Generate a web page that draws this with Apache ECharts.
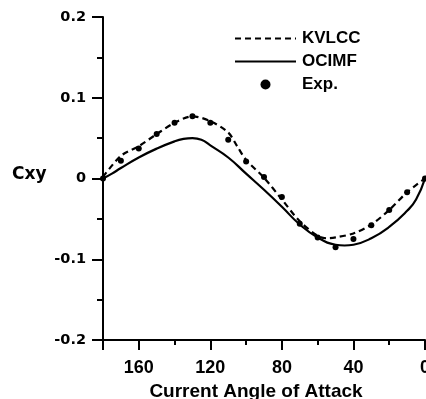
<!DOCTYPE html>
<html>
<head>
<meta charset="utf-8">
<script src="https://cdn.jsdelivr.net/npm/echarts@6/dist/echarts.min.js"></script>
<style>
html,body{margin:0;padding:0;background:#fff;}
#main{width:426px;height:399px;}
</style>
</head>
<body>
<div id="main"></div>
<script>
// angles (deg) and Cxy values
var kvlccAngle = [180, 170, 160, 150, 140, 130, 120, 110, 105, 100, 90, 80, 70, 60, 55, 50, 40, 30, 20, 10, 0];
var kvlccCxy   = [0.002, 0.028, 0.040, 0.055, 0.069, 0.077, 0.071, 0.057, 0.040, 0.023, 0.001, -0.026, -0.053, -0.071, -0.074, -0.073, -0.068, -0.057, -0.039, -0.017, 0.0];

var ocimfAngle = [180, 175, 170, 160, 150, 140, 135, 130, 125, 120, 110, 100, 90, 80, 70, 60, 50, 45, 40, 30, 20, 10, 5, 0];
var ocimfCxy   = [0.0, 0.006, 0.013, 0.026, 0.037, 0.046, 0.049, 0.050, 0.048, 0.041, 0.026, 0.006, -0.014, -0.035, -0.057, -0.073, -0.082, -0.083, -0.082, -0.074, -0.060, -0.040, -0.026, 0.0];

var expAngle = [180, 170, 160, 150, 140, 130, 120, 110, 100, 90, 80, 70, 60, 50, 40, 30, 20, 10, 0];
var expCxy   = [0.0, 0.022, 0.037, 0.055, 0.069, 0.077, 0.069, 0.048, 0.021, 0.002, -0.023, -0.056, -0.073, -0.085, -0.075, -0.058, -0.039, -0.017, 0.0];

function pairs(xs, ys) {
  var out = [];
  for (var i = 0; i < xs.length; i++) out.push([xs[i], ys[i]]);
  return out;
}

var chart = echarts.init(document.getElementById('main'));
var option = {
  animation: false,
  backgroundColor: '#fff',
  grid: { left: 103, right: 1, top: 17, bottom: 59, outerBoundsMode: 'none', containLabel: false },
  legend: {
    orient: 'vertical',
    left: 234, top: 30,
    itemWidth: 61, itemHeight: 10, itemGap: 6,
    padding: 0,
    textStyle: { fontFamily: 'Liberation Sans', fontWeight: 'bold', fontSize: 17, color: '#000', padding: [0, 0, 0, 1] },
    data: [
      { name: 'KVLCC', itemStyle: { opacity: 0 } },
      { name: 'OCIMF', itemStyle: { opacity: 0 } },
      { name: 'Exp.', icon: 'circle', itemStyle: { color: '#000', opacity: 1 } }
    ]
  },
  graphic: [{
    type: 'text', left: 12, top: 166,
    style: { text: 'Cxy', font: 'bold 17px "DejaVu Sans"', fill: '#000' }
  }],
  xAxis: [{
    type: 'value', inverse: true, min: 0, max: 180, interval: 40, position: 'bottom',
    name: 'Current Angle of Attack', nameLocation: 'middle', nameGap: 33,
    nameTextStyle: { fontFamily: 'Liberation Sans', fontWeight: 'bold', fontSize: 19, color: '#000', padding: [0, 16, 0, 0] },
    axisLine: { onZero: false, lineStyle: { color: '#000', width: 2 } },
    axisTick: { length: 10, lineStyle: { color: '#000', width: 2 } },
    axisLabel: {
      margin: 19, color: '#000', fontFamily: 'Liberation Sans', fontWeight: 'bold', fontSize: 18,
      formatter: function (v) { return v === 180 ? '' : String(v); }
    },
    splitLine: { show: false }
  }, {
    type: 'value', inverse: true, min: 0, max: 180, interval: 20, position: 'bottom',
    axisLine: { show: false, onZero: false },
    axisTick: { length: 5, lineStyle: { color: '#000', width: 2 } },
    axisLabel: { show: false },
    splitLine: { show: false }
  }],
  yAxis: {
    type: 'value', min: -0.2, max: 0.2, interval: 0.1, position: 'left',
    axisLine: { show: true, onZero: false, lineStyle: { color: '#000', width: 2 } },
    axisTick: { show: true, length: 11, lineStyle: { color: '#000', width: 2 } },
    minorTick: { show: true, splitNumber: 2, length: 6, lineStyle: { color: '#000', width: 2 } },
    axisLabel: { margin: 17, color: '#000', fontFamily: 'DejaVu Sans', fontWeight: 'bold', fontSize: 14.5 },
    splitLine: { show: false }
  },
  series: [{
    name: 'KVLCC', type: 'line', xAxisIndex: 0, smooth: 0.3,
    symbol: 'none', data: pairs(kvlccAngle, kvlccCxy),
    lineStyle: { color: '#000', width: 2.2, type: [6, 4] },
    itemStyle: { color: '#000' }
  }, {
    name: 'OCIMF', type: 'line', xAxisIndex: 0, smooth: true,
    symbol: 'none', data: pairs(ocimfAngle, ocimfCxy),
    lineStyle: { color: '#000', width: 2.2 },
    itemStyle: { color: '#000' }
  }, {
    name: 'Exp.', type: 'scatter', xAxisIndex: 0, symbolSize: 6,
    data: pairs(expAngle, expCxy),
    itemStyle: { color: '#000', opacity: 1 }, z: 5
  }]
};
chart.setOption(option);
</script>
</body>
</html>
